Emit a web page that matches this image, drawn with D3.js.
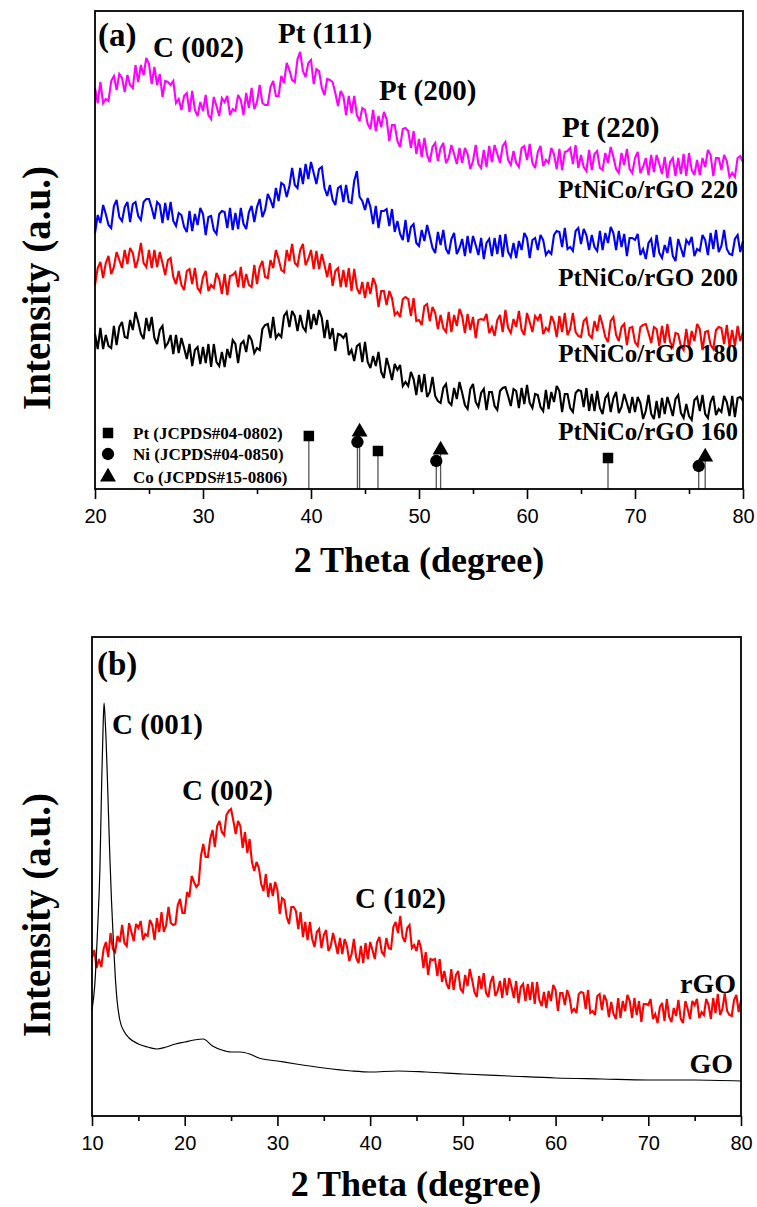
<!DOCTYPE html>
<html>
<head>
<meta charset="utf-8">
<script src="https://cdn.jsdelivr.net/npm/d3@7"></script>
<style>
  body { margin: 0; background: #fff; }
</style>
</head>
<body>
<svg id="xrd" width="757" height="1207"></svg>
<script>
// ---------- panel (a): PtNiCo/rGO, 2theta 20..80, step 0.25 ----------
const startA = 20;
const stepA = 0.25;

const s220 = [
  401,386,407,386, 390,388,408,413,  399,415,411,397, 414,404,401,424,
  407,424,414,431, 425,405,422,404,  415,392,408,407, 404,408,386,390,
  379,393,396,377, 398,379,373,387,  378,394,374,370, 392,383,373,391,
  387,393,374,380, 378,394,389,374,  396,381,401,380, 387,404,386,384,
  384,402,408,393, 393,413,406,426,  419,409,407,430, 437,418,412,426,
  429,405,420,418, 401,394,410,409,  407,396,383,398, 393,374,393,376,
  393,374,368,381, 379,365,360,379,  358,373,362,377, 370,348,364,364,
  348,342,360,361, 358,341,358,335,  350,332,351,334, 327,342,346,328,
  341,346,326,331, 344,335,325,341,  326,341,335,320, 328,344,325,321,
  339,322,343,327, 344,335,326,343,  347,329,324,338, 326,322,341,343,
  329,345,326,321, 337,343,323,329,  326,341,335,320, 340,319,337,338,
  341,325,344,321, 334,322,318,339,  319,335,338,321, 319,336,326,342,
  332,320,316,336, 324,340,320,316,  331,337,316,322, 331,314,334,317,
  334,325,315,332, 311,327,331,313,  331,315,335,313, 336,319,314,329,
  314,331,322,339, 334,313,331,331,  319,334,328,312, 316,312,331,333,
  327
];

const s200 = [
  256,274,266,284, 275,264,261,283,  289,272,268,282, 287,267,285,287,
  273,269,287,290, 290,281,270,287,  284,266,286,269, 287,268,263,276,
  274,262,257,278, 258,275,264,281,  275,254,272,273, 259,255,275,278,
  277,261,281,259, 276,260,281,265,  260,277,283,267, 282,290,272,279,
  295,289,281,301, 288,306,304,292,  303,321,304,301, 321,305,325,310,
  327,316,305,320, 322,301,293,304,  289,284,301,303, 287,304,287,286,
  308,318,292,288, 279,291,282,265,  283,261,278,278, 280,263,280,257,
  268,255,249,269, 247,262,265,246,  243,259,248,264, 253,241,236,257,
  244,259,240,235, 250,256,235,241,  250,233,253,236, 253,244,234,251,
  230,246,250,233, 251,235,254,232,  255,237,232,246, 231,248,239,256,
  251,231,249,251, 239,254,249,234,  238,235,254,258, 257,242,261,240,
  242,238,258,261, 245,260,254,239,  254,242,238,258, 239,256,246,262,
  256,239,258,242, 255,233,251,251,  249,255,234,240, 230,246,250,232,
  254,236,231,244, 236,252,233,228,  250,241,232,249, 245,252,233,240,
  238,254,249,234, 256,240,259,237,  243,259,240,235, 234,250,254,237,
  248
];

const s180 = [
  204,221,227,211, 226,233,215,222,  237,229,221,239, 225,241,236,221,
  230,246,226,222, 239,221,239,222,  237,226,214,229, 231,212,205,218,
  204,199,218,220, 205,221,201,197,  212,218,198,204, 201,216,210,195,
  215,194,213,214, 217,202,222,201,  215,204,202,224, 205,222,228,212,
  211,229,221,239, 230,219,217,239,  228,245,226,223, 239,245,224,230,
  239,220,238,220, 235,224,212,226,  203,218,221,202, 219,202,221,198,
  220,201,195,207, 191,207,195,211,  204,182,198,198, 184,198,191,174,
  177,172,190,192, 190,173,191,168,  169,164,183,185, 168,182,176,160,
  174,161,157,177, 157,174,163,180,  173,156,175,159, 172,151,169,170,
  169,175,156,162, 153,169,174,157,  179,161,156,170, 162,178,159,154,
  176,167,157,173, 169,175,155,161,  158,173,167,152, 173,157,176,154,
  160,176,157,153, 152,168,171,154,  151,168,158,174, 164,152,147,168,
  172,154,148,162, 165,144,161,162,  147,143,162,164, 165,156,146,162,
  160,143,163,146, 165,147,142,156,  155,143,139,160, 141,158,148,165,
  160,139,157,158, 144,140,159,162,  161,145,164,142, 159,143,163,148,
  157
];

const s160 = [
  155,140,161,140, 154,143,141,163,  144,162,167,152, 151,169,159,177,
  167,155,150,171, 158,172,151,145,  159,163,142,146, 154,135,154,136,
  151,141,130,145, 123,139,142,125,  142,126,145,122, 145,127,123,137,
  122,140,131,149, 145,126,145,148,  137,154,149,136, 141,139,160,164,
  165,151,172,151, 155,152,173,177,  162,178,173,158, 174,162,158,179,
  160,175,164,179, 171,151,169,150,  161,138,155,154, 151,156,134,139,
  128,143,145,127, 147,127,121,133,  123,137,117,111, 131,121,109,125,
  119,124,103,107, 103,117,110,94,   114,97,115,92,    97,112,93,88,
  86,101,105,87,   84,101,90,107,    96,84,80,100,    105,87,82,96,
  100,79,97,97,    83,79,98,101,     102,93,83,100,   98,81,101,85,
  104,86,81,95,    94,82,78,99,      80,97,87,103,    98,77,95,95,
  81,77,96,99,     98,82,101,78,     95,78,98,81,     75,91,95,77,
  91,97,76,82,     95,86,76,92,      77,92,86,70,     78,94,75,70,
  88,71,91,75,     92,83,73,90,      94,76,71,85,     73,69,89,92,
  78,94,75,71,     87,93,74,80,      77,93,87,73,     93,72,91,92,
  88
];

const seriesNamesA = ["PtNiCo/rGO 220", "PtNiCo/rGO 200", "PtNiCo/rGO 180", "PtNiCo/rGO 160"];
const seriesColorsA = ["#ff00ff", "#0000ff", "#ff0000", "#000000"];

// reference patterns (2theta, relative intensity)
const ptPos = [39.8, 46.2, 67.5];
const ptInt = [53, 38, 31];
const niPos = [44.3, 51.6, 75.9];
const niInt = [47, 28, 23];
const coPos = [44.5, 52.0, 76.5];
const coInt = [57, 39, 32];
const refNames = ["Pt (JCPDS#04-0802)", "Ni (JCPDS#04-0850)", "Co (JCPDS#15-0806)"];

const peakLabelsA = ["C (002)", "Pt (111)", "Pt (200)", "Pt (220)"];
const ticksA = [20, 30, 40, 50, 60, 70, 80];
const minorTicksA = [25, 35, 45, 55, 65, 75];

// ---------- panel (b): GO and rGO ----------
const startB = 10;
const stepB = 0.25;

const rgo = [
  158,166,148,157, 149,167,174,159,  183,167,164,180, 174,191,173,170,
  193,184,175,192, 188,195,176,182,  180,196,191,176, 198,184,204,184,
  191,209,193,191, 192,211,217,203,  203,224,219,240, 234,229,232,260,
  272,259,259,277, 286,269,290,295,  284,281,301,305, 307,295,282,295,
  290,268,284,263, 277,254,245,254,  248,232,225,242, 219,233,220,234,
  226,202,218,216, 199,192,209,209,  205,187,204,179, 194,176,194,177,
  169,184,187,168, 181,186,165,170,  183,173,162,178, 162,177,170,155,
  162,177,158,153, 170,153,173,157,  174,166,157,174, 179,164,161,178,
  168,167,189,194, 183,200,179,174,  188,191,168,171, 165,176,167,148,
  164,141,157,156, 157,140,157,134,  145,132,127,147, 126,141,145,127,
  124,141,130,147, 136,124,119,140,  127,143,123,119, 134,140,120,125,
  135,118,138,121, 138,129,118,135,  113,129,132,115, 132,116,134,112,
  134,116,110,124, 108,125,115,131,  126,105,123,123, 111,126,119,104,
  107,103,122,124, 123,107,126,103,  105,101,120,122, 106,121,115,99,
  114,102,97,118,  98,115,105,121,   115,98,118,101,  115,94,112,112,
  111,117,97,102,  93,109,113,95,    117,99,94,108,   100,116,97,93,
  115,107,97,115,  111,117,98,104,   101,117,111,97,  118,103,122,101,
  107,123,105,101, 100,116,121,104,
  116
];

const goTheta = [10, 10.3, 10.6, 10.85, 11.05, 11.2, 11.3, 11.4, 11.5, 11.7, 11.9, 12.1, 12.3,
  12.5, 12.7, 13, 13.5, 14, 15, 16, 17, 18, 19, 20, 21, 22, 23, 24, 25, 26, 27, 28, 30, 32,
  35, 38, 40, 43, 46, 50, 55, 60, 65, 70, 75, 80];
const goInt = [106, 131, 186, 246, 336, 390, 413, 400, 381, 326, 266, 216, 176,
  141, 116, 96, 84, 78, 72, 69, 67, 69, 72, 74, 76, 77, 70, 66, 64, 64, 62, 58, 55, 52,
  48, 45, 44, 45, 44, 42, 40, 38, 37, 36, 36, 35];

const peakLabelsB = ["C (001)", "C (002)", "C (102)"];
const ticksB = [10, 20, 30, 40, 50, 60, 70, 80];
const minorTicksB = [15, 25, 35, 45, 55, 65, 75];

// ---------- drawing ----------
const svg = d3.select("#xrd");
const serif = "'Liberation Serif', 'Times New Roman', serif";
const sans = "'Liberation Sans', Arial, sans-serif";

svg.append("rect").attr("width", 757).attr("height", 1207).attr("fill", "#fff");

function label(g, txt, x, y, size, anchor) {
  return g.append("text")
    .attr("x", x).attr("y", y)
    .attr("text-anchor", anchor || "start")
    .style("font-family", serif)
    .style("font-weight", "bold")
    .style("font-size", size + "px")
    .text(txt);
}

function bottomAxis(g, x, y0, major, minor) {
  const ax = g.append("g").attr("transform", `translate(0,${y0})`)
    .call(d3.axisBottom(x).tickValues(major).tickSize(10).tickPadding(10));
  ax.select(".domain").remove();
  ax.selectAll("line").attr("stroke-width", 1.6);
  ax.selectAll("text").style("font-family", sans).style("font-size", "20px").attr("fill", "#000");
  const mn = g.append("g").attr("transform", `translate(0,${y0})`)
    .call(d3.axisBottom(x).tickValues(minor).tickSize(5).tickFormat(""));
  mn.select(".domain").remove();
  mn.selectAll("line").attr("stroke-width", 1.6);
}

// noisy scans are drawn a bit heavy so the scatter reads as a band
const scanWidth = 2.1;

// panel (a)
const xA = d3.scaleLinear().domain([20, 80]).range([95, 743]);
const yA = d3.scaleLinear().domain([0, 478]).range([489, 11]);
const gA = svg.append("g");

const lineA = d3.line()
  .x((d, i) => xA(startA + i * stepA))
  .y((d) => yA(d));

[s220, s200, s180, s160].forEach((s, k) => {
  gA.append("path")
    .attr("d", lineA(s))
    .attr("fill", "none")
    .attr("stroke", seriesColorsA[k])
    .attr("stroke-width", scanWidth)
    .attr("stroke-linejoin", "miter")
    .attr("stroke-miterlimit", 3);
});

const refs = [
  { pos: ptPos, int: ptInt, shape: d3.symbolSquare, size: 110 },
  { pos: niPos, int: niInt, shape: d3.symbolCircle, size: 120 },
  { pos: coPos, int: coInt, shape: d3.symbolTriangle, size: 110 },
];

refs.forEach((r) => {
  r.pos.forEach((p, i) => {
    gA.append("line")
      .attr("x1", xA(p)).attr("x2", xA(p))
      .attr("y1", yA(0)).attr("y2", yA(r.int[i]))
      .attr("stroke", "#555").attr("stroke-width", 1.3);
  });
});
refs.forEach((r) => {
  r.pos.forEach((p, i) => {
    gA.append("path")
      .attr("d", d3.symbol().type(r.shape).size(r.size)())
      .attr("transform", `translate(${xA(p)},${yA(r.int[i])})`)
      .attr("fill", "#000");
  });
});

// legend for reference patterns
const legendY = [433, 454, 477];
refs.forEach((r, i) => {
  gA.append("path")
    .attr("d", d3.symbol().type(r.shape).size(r.size)())
    .attr("transform", `translate(108,${legendY[i]})`)
    .attr("fill", "#000");
  label(gA, refNames[i], 133, legendY[i] + 6, 17);
});

gA.append("rect")
  .attr("x", 95).attr("y", 11).attr("width", 648).attr("height", 478)
  .attr("fill", "none").attr("stroke", "#000").attr("stroke-width", 1.8);

bottomAxis(gA, xA, 489, ticksA, minorTicksA);

label(gA, "(a)", 98, 46, 33);
label(gA, peakLabelsA[0], 153, 57, 29);
label(gA, peakLabelsA[1], 278, 43, 29);
label(gA, peakLabelsA[2], 379, 100, 29);
label(gA, peakLabelsA[3], 562, 137, 29);
label(gA, seriesNamesA[0], 738, 198, 25, "end");
label(gA, seriesNamesA[1], 738, 286, 25, "end");
label(gA, seriesNamesA[2], 738, 362, 25, "end");
label(gA, seriesNamesA[3], 738, 440, 25, "end");

label(gA, "2 Theta (degree)", 419, 572, 36, "middle");
label(gA, "Intensity (a.u.)", 0, 0, 39, "middle")
  .attr("transform", "translate(50,288) rotate(-90)");

// panel (b)
const xB = d3.scaleLinear().domain([10, 80]).range([92, 741]);
const yB = d3.scaleLinear().domain([0, 479]).range([1116, 637]);
const gB = svg.append("g");

const lineRgo = d3.line()
  .x((d, i) => xB(startB + i * stepB))
  .y((d) => yB(d));

gB.append("path")
  .attr("d", lineRgo(rgo))
  .attr("fill", "none")
  .attr("stroke", "#ff0000")
  .attr("stroke-width", scanWidth)
  .attr("stroke-linejoin", "miter")
  .attr("stroke-miterlimit", 3);

const lineGo = d3.line()
  .x((d, i) => xB(goTheta[i]))
  .y((d) => yB(d))
  .curve(d3.curveMonotoneX);

gB.append("path")
  .attr("d", lineGo(goInt))
  .attr("fill", "none")
  .attr("stroke", "#000")
  .attr("stroke-width", 1.2);

gB.append("rect")
  .attr("x", 92).attr("y", 637).attr("width", 649).attr("height", 479)
  .attr("fill", "none").attr("stroke", "#000").attr("stroke-width", 1.8);

bottomAxis(gB, xB, 1116, ticksB, minorTicksB);

label(gB, "(b)", 97, 675, 33);
label(gB, peakLabelsB[0], 112, 734, 29);
label(gB, peakLabelsB[1], 182, 800, 29);
label(gB, peakLabelsB[2], 355, 908, 29);
label(gB, "rGO", 736, 993, 28, "end");
label(gB, "GO", 733, 1073, 28, "end");

label(gB, "2 Theta (degree)", 416, 1196, 36, "middle");
label(gB, "Intensity (a.u.)", 0, 0, 39, "middle")
  .attr("transform", "translate(50,915) rotate(-90)");
</script>
</body>
</html>
